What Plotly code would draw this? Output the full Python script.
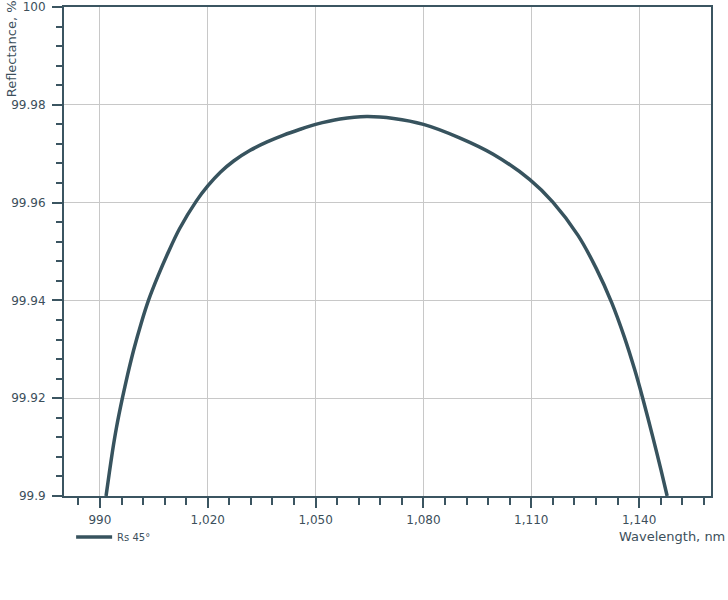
import plotly.graph_objects as go

# Data
wavelength = [991.7, 992.6, 993.5, 994.6, 996.3, 997.7, 999.4, 1001.5, 1003.5, 1006.1,
              1009.1, 1012.1, 1016.8, 1020.0, 1023.5, 1027.2, 1031.8, 1036.5, 1041.1,
              1045.7, 1050.0, 1056.8, 1064.2, 1071.7, 1080.0, 1090.2, 1099.4, 1109.6,
              1116.0, 1123.0, 1128.1, 1132.4, 1135.9, 1138.7, 1141.0, 1143.8, 1146.1,
              1147.8]
reflectance = [99.9000, 99.9047, 99.9092, 99.9140, 99.9202, 99.9248, 99.9299, 99.9354,
               99.9400, 99.9449, 99.9500, 99.9546, 99.9603, 99.9634, 99.9662, 99.9685,
               99.9707, 99.9724, 99.9738, 99.9750, 99.9760, 99.9771, 99.9776, 99.9772,
               99.9760, 99.9732, 99.9699, 99.9647, 99.9601, 99.9533, 99.9465, 99.9395,
               99.9325, 99.9260, 99.9200, 99.9121, 99.9053, 99.9000]
series_name = "Rs 45°"
x_title = "Wavelength, nm"
y_title = "Reflectance, %"

axis_color = "#3b5561"
line_color = "#37535e"
text_color = "#3c4f5b"
grid_color = "#c8c8c8"
font_family = "DejaVu Sans"

fig = go.Figure()
fig.add_trace(go.Scatter(
    x=wavelength, y=reflectance, mode="lines", name=series_name,
    line=dict(color=line_color, width=3.5, shape="spline", smoothing=0.8),
))

fig.update_layout(
    width=728, height=600,
    margin=dict(l=64, r=17, t=7, b=104, autoexpand=False),
    paper_bgcolor="white", plot_bgcolor="white",
    font=dict(family=font_family, size=12, color=text_color),
    showlegend=True,
    legend=dict(orientation="h", x=0.011, xanchor="left", y=-0.084, yanchor="middle",
                font=dict(size=10, color=text_color), bgcolor="rgba(0,0,0,0)",
                itemwidth=36),
)

fig.update_xaxes(
    range=[980, 1160], tick0=990, dtick=30, tickformat=",", automargin=False,
    showline=True, linecolor=axis_color, linewidth=2, mirror=True,
    ticks="outside", ticklen=10, tickwidth=2, tickcolor=axis_color,
    ticklabelstandoff=2,
    showgrid=True, gridcolor=grid_color, gridwidth=1, zeroline=False,
    minor=dict(dtick=6, tick0=990, ticks="outside", ticklen=7, tickwidth=2,
               tickcolor=axis_color, showgrid=False),
    tickfont=dict(size=12, color=text_color),
)
fig.update_yaxes(
    range=[99.9, 100], tick0=99.9, dtick=0.02, automargin=False,
    showline=True, linecolor=axis_color, linewidth=2, mirror=True,
    ticks="outside", ticklen=10, tickwidth=2, tickcolor=axis_color,
    ticklabelstandoff=4,
    showgrid=True, gridcolor=grid_color, gridwidth=1, zeroline=False,
    minor=dict(dtick=0.004, tick0=99.9, ticks="outside", ticklen=6, tickwidth=2,
               tickcolor=axis_color, showgrid=False),
    tickfont=dict(size=12, color=text_color),
)

fig.add_annotation(
    text=y_title, xref="paper", yref="paper", x=-0.081, y=1.018,
    xanchor="center", yanchor="top", textangle=-90, showarrow=False,
    font=dict(size=13, color=text_color, family=font_family),
)
fig.add_annotation(
    text=x_title, xref="paper", yref="paper", x=1.0255, y=-0.083,
    xanchor="right", yanchor="middle", showarrow=False,
    font=dict(size=13, color=text_color, family=font_family),
)

fig.write_html("out.html", config={"displayModeBar": False},
               post_script="document.body.style.margin='0';")
